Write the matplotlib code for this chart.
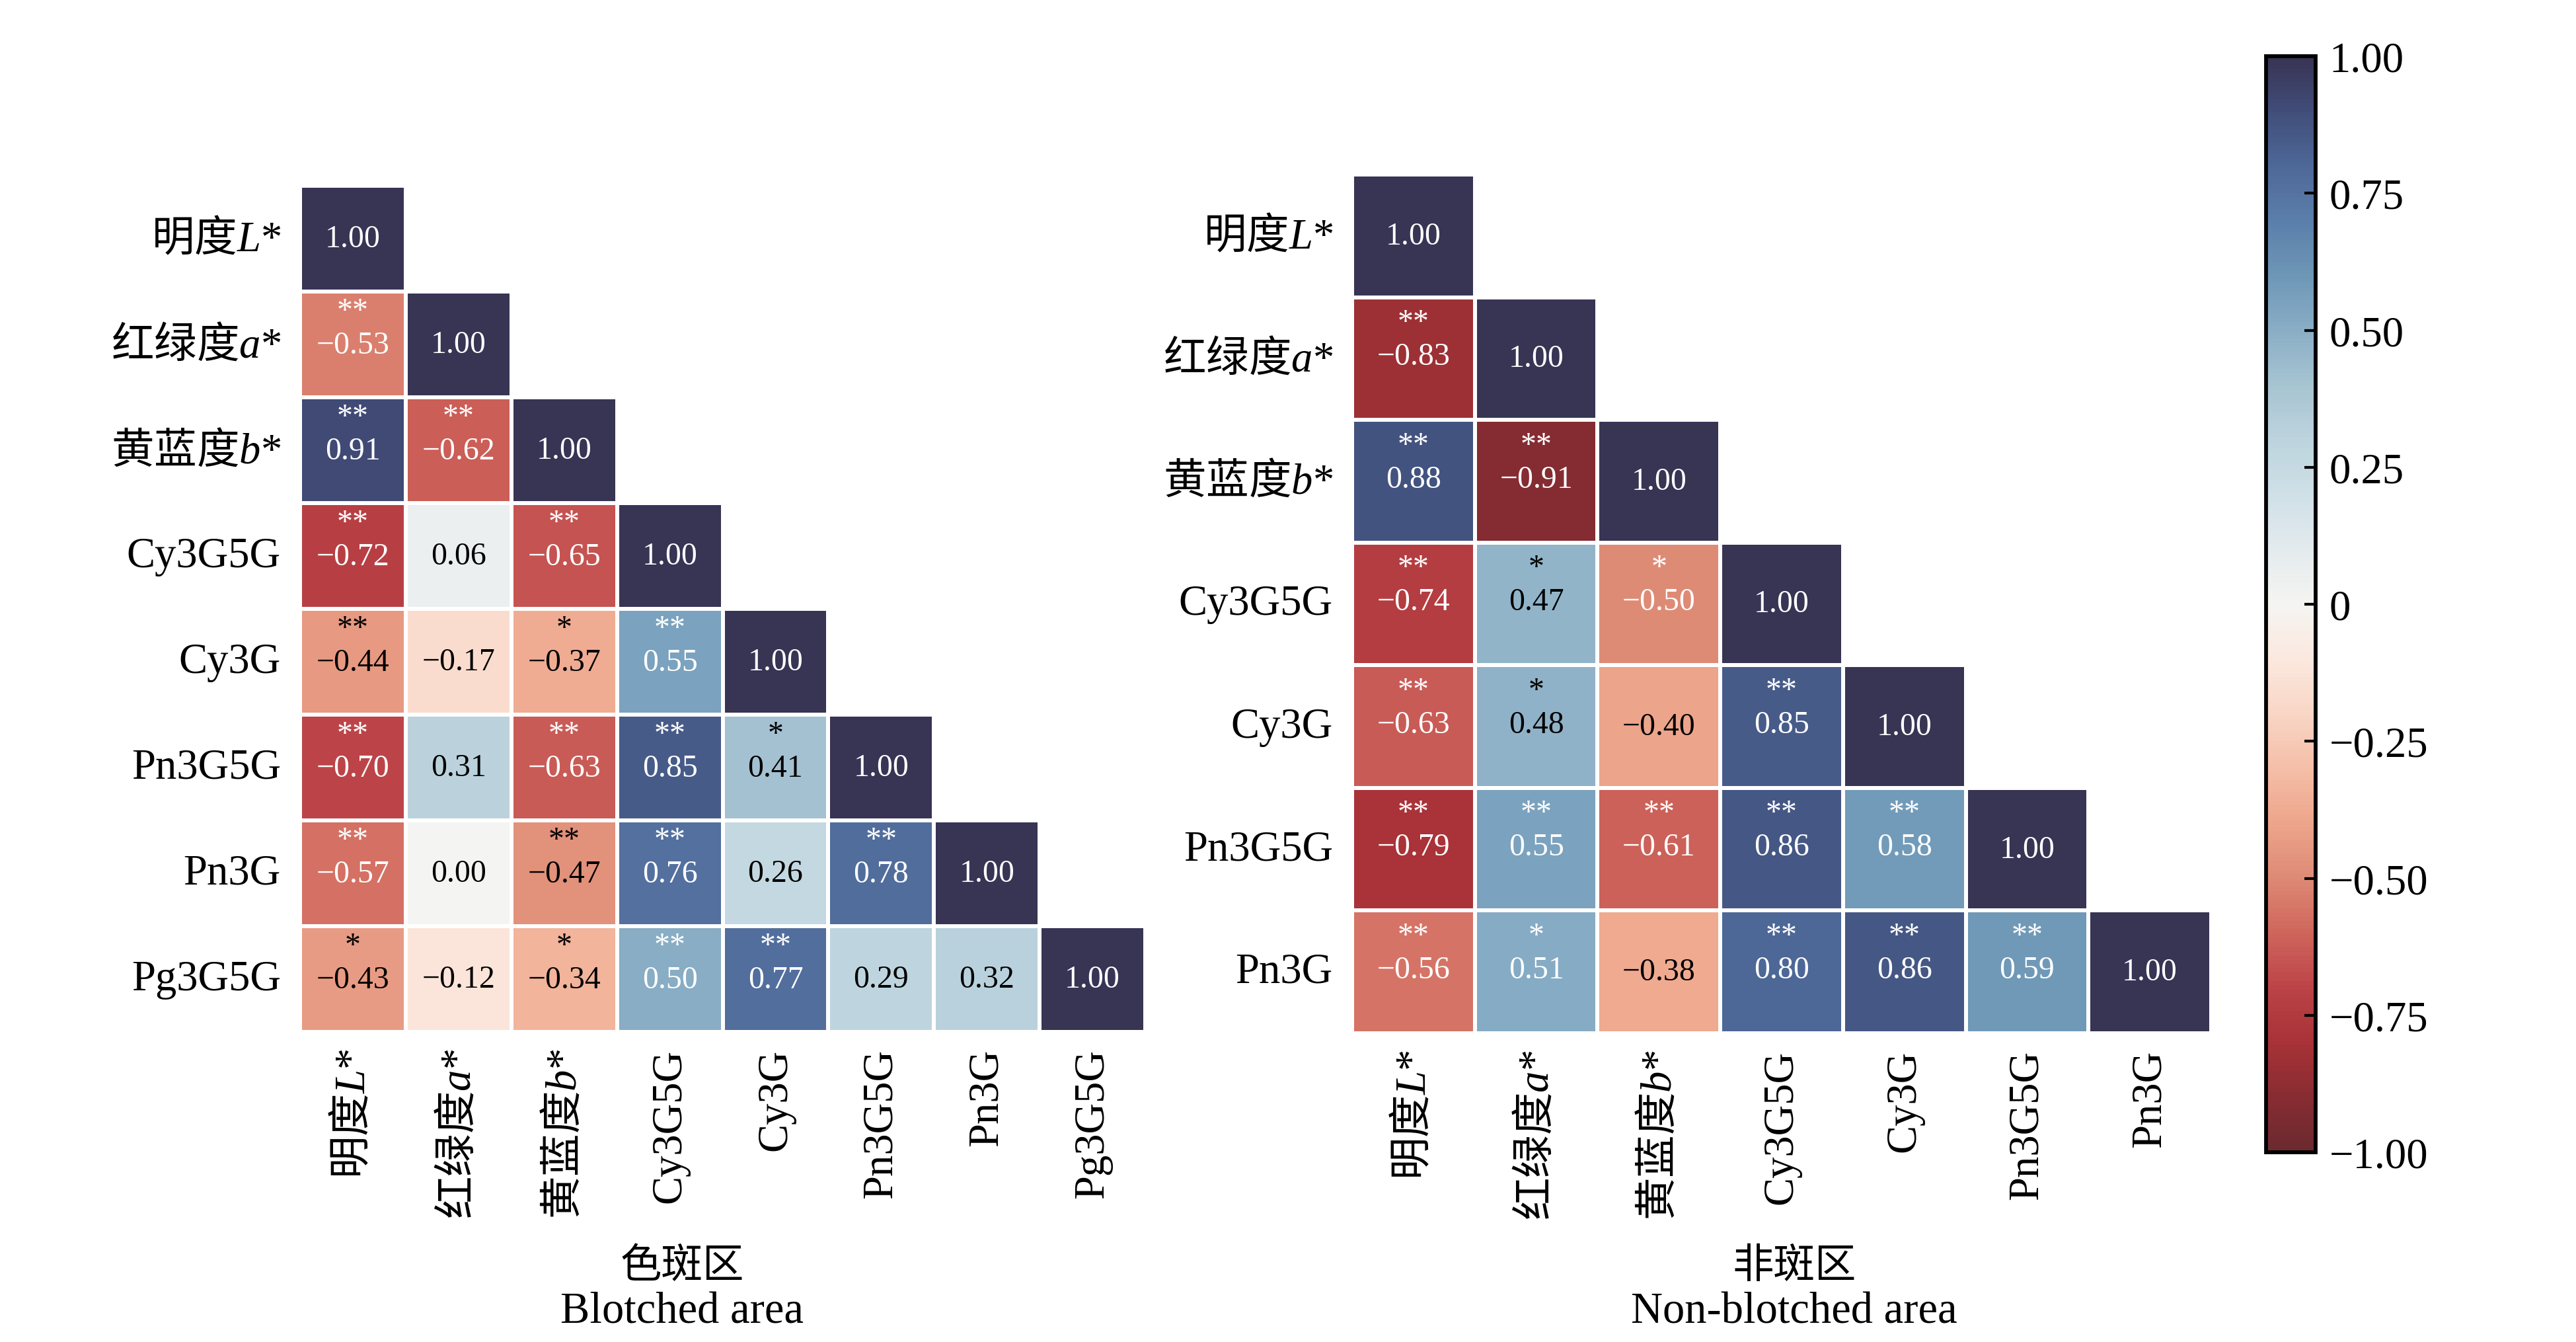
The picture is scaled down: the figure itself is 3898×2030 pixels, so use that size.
import matplotlib
matplotlib.use('Agg')
import matplotlib.pyplot as plt
import numpy as np
import pandas as pd
import seaborn as sns
from matplotlib.colors import LinearSegmentedColormap, Normalize
from matplotlib.cm import ScalarMappable

plt.rcParams['font.family'] = ['Liberation Serif', 'Noto Sans CJK SC']
plt.rcParams['mathtext.fontset'] = 'custom'
plt.rcParams['mathtext.it'] = 'Liberation Serif:italic'
plt.rcParams['mathtext.rm'] = 'Liberation Serif'

# 色斑区 (lower triangle rows)
labels_blotched = ['明度$\\mathit{L}\\mathrm{{*}}$', '红绿度$\\mathit{a}\\mathrm{{*}}$',
                   '黄蓝度$\\mathit{b}\\mathrm{{*}}$',
                   'Cy3G5G', 'Cy3G', 'Pn3G5G', 'Pn3G', 'Pg3G5G']
r_blotched = [
    [1.00],
    [-0.53, 1.00],
    [0.91, -0.62, 1.00],
    [-0.72, 0.06, -0.65, 1.00],
    [-0.44, -0.17, -0.37, 0.55, 1.00],
    [-0.70, 0.31, -0.63, 0.85, 0.41, 1.00],
    [-0.57, 0.00, -0.47, 0.76, 0.26, 0.78, 1.00],
    [-0.43, -0.12, -0.34, 0.50, 0.77, 0.29, 0.32, 1.00],
]
sig_blotched = [
    [''],
    ['**', ''],
    ['**', '**', ''],
    ['**', '', '**', ''],
    ['**', '', '*', '**', ''],
    ['**', '', '**', '**', '*', ''],
    ['**', '', '**', '**', '', '**', ''],
    ['*', '', '*', '**', '**', '', '', ''],
]

# 非斑区
labels_non = ['明度$\\mathit{L}\\mathrm{{*}}$', '红绿度$\\mathit{a}\\mathrm{{*}}$',
              '黄蓝度$\\mathit{b}\\mathrm{{*}}$',
              'Cy3G5G', 'Cy3G', 'Pn3G5G', 'Pn3G']
r_non = [
    [1.00],
    [-0.83, 1.00],
    [0.88, -0.91, 1.00],
    [-0.74, 0.47, -0.50, 1.00],
    [-0.63, 0.48, -0.40, 0.85, 1.00],
    [-0.79, 0.55, -0.61, 0.86, 0.58, 1.00],
    [-0.56, 0.51, -0.38, 0.80, 0.86, 0.59, 1.00],
]
sig_non = [
    [''],
    ['**', ''],
    ['**', '**', ''],
    ['**', '*', '*', ''],
    ['**', '*', '', '**', ''],
    ['**', '**', '**', '**', '**', ''],
    ['**', '*', '', '**', '**', '**', ''],
]

cbar_ticks = [-1.0, -0.75, -0.5, -0.25, 0, 0.25, 0.5, 0.75, 1.0]
cbar_ticklabels = ['−1.00', '−0.75', '−0.50', '−0.25', '0', '0.25', '0.50', '0.75', '1.00']

cmap = LinearSegmentedColormap.from_list('rdbu_dark', [
    (0.00, '#6b2a2f'), (0.05, '#882c32'), (0.10, '#a83237'), (0.15, '#bc4448'),
    (0.20, '#cf665c'), (0.25, '#de8a76'), (0.30, '#eda58b'), (0.35, '#f5bea7'),
    (0.40, '#f9d6c6'), (0.45, '#fbe8de'), (0.50, '#f5f4f2'), (0.55, '#e4ebee'),
    (0.60, '#cfe0e7'), (0.65, '#bdd4de'), (0.70, '#a7c4d2'), (0.75, '#8aaec6'),
    (0.80, '#6e97b6'), (0.85, '#5b7fab'), (0.90, '#4e6898'), (0.95, '#414e7a'),
    (1.00, '#383454')])


def to_matrix(rows):
    n = len(rows)
    m = np.full((n, n), np.nan)
    for i, row in enumerate(rows):
        m[i, :len(row)] = row
    return m


def draw(ax, rows, sigs, labels, tick_size=15.5):
    m = to_matrix(rows)
    n = len(labels)
    df = pd.DataFrame(m, index=labels, columns=labels)
    mask = np.triu(np.ones((n, n), dtype=bool), k=1)
    sns.heatmap(df, mask=mask, cmap=cmap, vmin=-1, vmax=1, linewidths=1.0,
                linecolor='white', cbar=False, ax=ax, square=False,
                xticklabels=True, yticklabels=True)
    for i, row in enumerate(rows):
        for j, v in enumerate(row):
            c = 'white' if abs(v) >= 0.5 else 'black'
            num = ('%.2f' % v).replace('-', '−')
            if sigs[i][j]:
                # stars on the line above the value
                ax.text(j + 0.5, i + 0.345, sigs[i][j] + '\n' + num, ha='center',
                        va='center', multialignment='center', linespacing=1.2,
                        fontsize=11.5, color=c, family='Liberation Serif')
            else:
                ax.text(j + 0.5, i + 0.5, num, ha='center', va='center',
                        fontsize=11.5, color=c, family='Liberation Serif')
    ax.set_xlabel('')
    ax.set_ylabel('')
    ax.tick_params(length=0, labelsize=tick_size)
    ax.tick_params(axis='x', pad=6)
    ax.tick_params(axis='y', pad=7)
    for t in ax.get_xticklabels():
        t.set_rotation(90)
    for t in ax.get_yticklabels():
        t.set_rotation(0)
    for t in ax.get_xticklabels() + ax.get_yticklabels():
        if '$' in t.get_text():
            t.set_fontfamily('Noto Sans CJK SC')


fig = plt.figure(figsize=(3898 / 300, 2031 / 300), dpi=300)

ax1 = fig.add_axes([454 / 3898, 1 - 1562 / 2031, 1279 / 3898, 1280 / 2031])
draw(ax1, r_blotched, sig_blotched, labels_blotched)

ax2 = fig.add_axes([2046 / 3898, 1 - 1564 / 2031, 1300 / 3898, 1299 / 2031])
draw(ax2, r_non, sig_non, labels_non)

cax = fig.add_axes([3429 / 3898, 1 - 1744 / 2031, 75 / 3898, 1658 / 2031])
sm = ScalarMappable(norm=Normalize(vmin=-1, vmax=1), cmap=cmap)
cb = fig.colorbar(sm, cax=cax)
cb.outline.set_linewidth(1.4)
cb.set_ticks(cbar_ticks)
cb.set_ticklabels(cbar_ticklabels)
cax.tick_params(direction='in', length=4, width=1, labelsize=15.5, pad=5)

fig.text(1032 / 3898, 1 - 1915 / 2031, '色斑区', ha='center', va='center',
         fontsize=15, family='Noto Sans CJK SC')
fig.text(1032 / 3898, 1 - 1985 / 2031, 'Blotched area', ha='center', va='center',
         fontsize=16)
fig.text(2715 / 3898, 1 - 1915 / 2031, '非斑区', ha='center', va='center',
         fontsize=15, family='Noto Sans CJK SC')
fig.text(2715 / 3898, 1 - 1985 / 2031, 'Non-blotched area', ha='center', va='center',
         fontsize=16)

fig.savefig('out.png', dpi=300, facecolor='white')
